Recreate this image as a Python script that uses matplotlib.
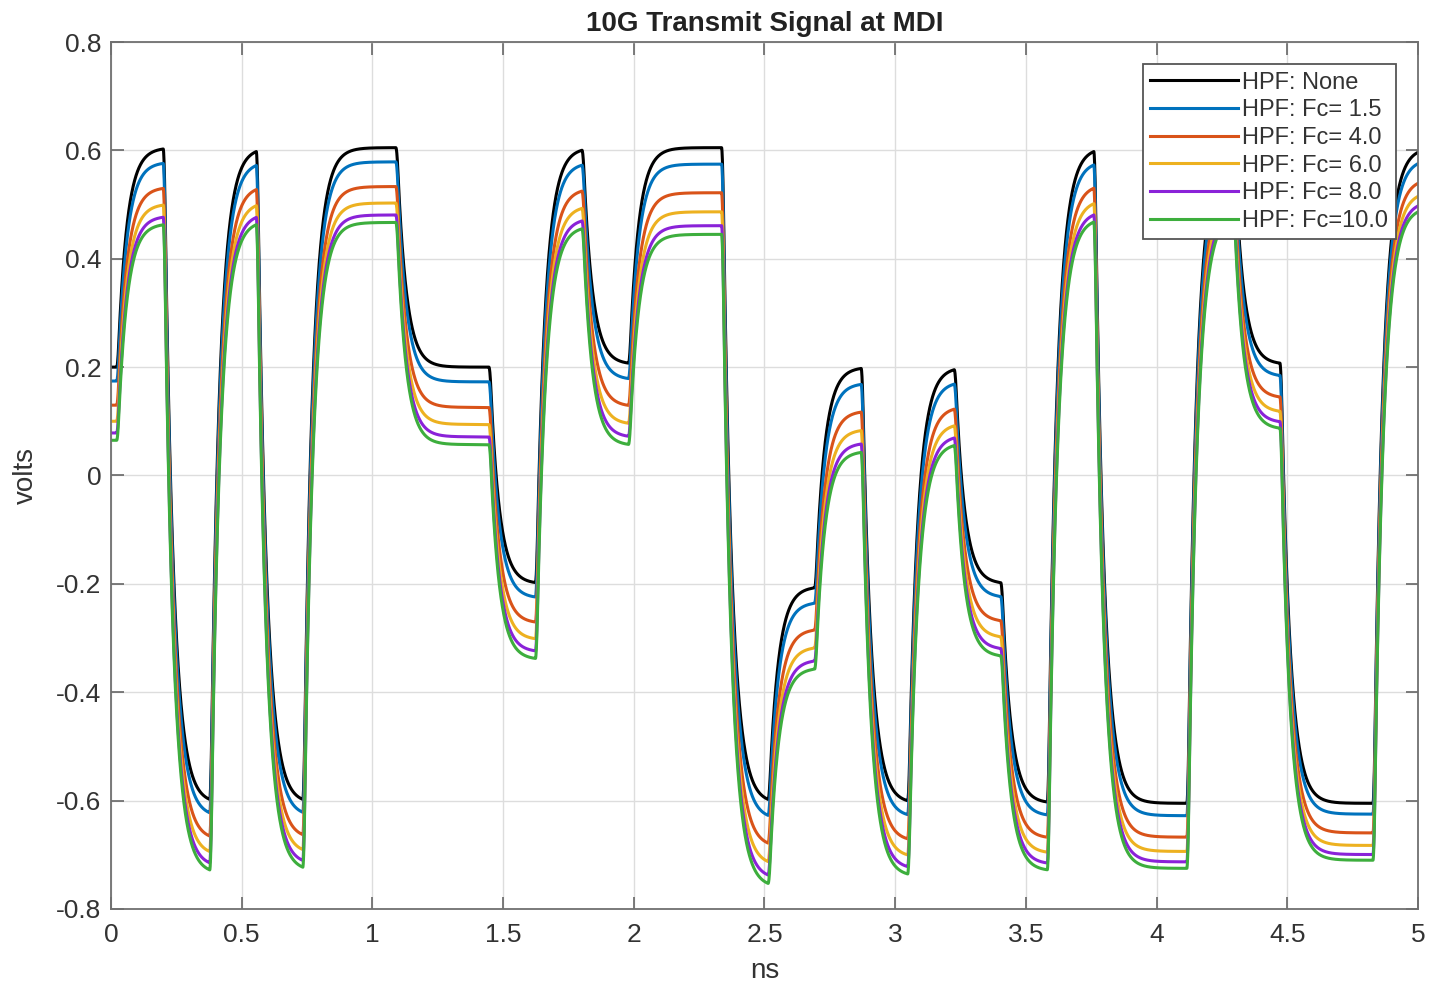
import numpy as np
import matplotlib.pyplot as plt

# symbol timing (ns)
t_first = 0.022
t_sym = 0.178

# PAM levels of the unfiltered signal, one per symbol
level_start = 0.2
levels = [0.605, -0.605, 0.605, -0.605, 0.605, 0.605, 0.2, 0.2, -0.2, 0.605,
          0.205, 0.605, 0.605, -0.605, -0.205, 0.2, -0.605, 0.2, -0.2, -0.605,
          0.605, -0.605, -0.605, 0.605, 0.205, -0.605, -0.605, 0.605]

# baseline shift of the Fc=10 curve per symbol (volts)
shift_start = -0.135
shift_fc10 = [-0.14, -0.13, -0.135, -0.125, -0.138, -0.138, -0.143, -0.143, -0.14, -0.145,
              -0.15, -0.16, -0.16, -0.155, -0.15, -0.155, -0.135, -0.14, -0.135, -0.125,
              -0.13, -0.12, -0.12, -0.12, -0.12, -0.105, -0.105, -0.11]

labels = ['HPF: None', 'HPF: Fc= 1.5', 'HPF: Fc= 4.0', 'HPF: Fc= 6.0', 'HPF: Fc= 8.0', 'HPF: Fc=10.0']
shift_scale = [0.0, 0.19, 0.52, 0.74, 0.9, 1.0]
colors = ['#000000', '#0072BD', '#D95319', '#EDB120', '#8A22D8', '#3DAE3D']

# driver edge + line response
edge_ramp = 0.008
tau = 0.034
dt = 0.0005
t = np.arange(0, 5.0 + dt, dt)
edges = t_first + t_sym * np.arange(len(levels))


def waveform(start, targets):
    x = np.full_like(t, start)
    prev = start
    for e, v in zip(edges, targets):
        frac = np.clip((t - e) / edge_ramp, 0, 1)
        x = x + (v - prev) * frac
        prev = v
    y = np.empty_like(x)
    y[0] = start
    a = np.exp(-dt / tau)
    for i in range(1, len(t)):
        y[i] = a * y[i - 1] + (1 - a) * x[i]
    return y


plt.rcParams['font.family'] = ['Liberation Sans', 'DejaVu Sans']
fig = plt.figure(figsize=(14.45, 9.86), dpi=100)
ax = fig.add_axes([0.0768, 0.0781, 0.9045, 0.8793])

for lab, k, c in zip(labels, shift_scale, colors):
    targets = [v + k * s for v, s in zip(levels, shift_fc10)]
    y = waveform(level_start + k * shift_start, targets)
    ax.plot(t, y, color=c, lw=2.2, label=lab)

ax.set_xlim(0, 5)
ax.set_ylim(-0.8, 0.8)
ax.set_xticks(np.arange(0, 5.01, 0.5))
ax.set_xticklabels(['0', '0.5', '1', '1.5', '2', '2.5', '3', '3.5', '4', '4.5', '5'])
ax.set_yticks(np.arange(-0.8, 0.81, 0.2))
ax.set_yticklabels(['-0.8', '-0.6', '-0.4', '-0.2', '0', '0.2', '0.4', '0.6', '0.8'])
ax.grid(True, color='#dddddd', lw=1.0)
ax.set_axisbelow(True)
ax.tick_params(direction='in', length=9, width=1.2, color='#666666', labelcolor='#333333',
               labelsize=19, top=True, right=True)
ax.tick_params(axis='x', pad=10)
ax.tick_params(axis='y', pad=7)
for sp in ax.spines.values():
    sp.set_color('#707070')
    sp.set_linewidth(1.3)

ax.set_title('10G Transmit Signal at MDI', fontsize=20, fontweight='bold', color='#222222', pad=8)
ax.set_xlabel('ns', fontsize=20, color='#333333', labelpad=8)
ax.set_ylabel('volts', fontsize=20, color='#333333', labelpad=12)

leg = ax.legend(loc='upper right', fontsize=17, handlelength=3.7, handletextpad=0.2,
                labelspacing=0.24, borderpad=0.3, borderaxespad=0.95, fancybox=False,
                framealpha=1, edgecolor='#555555')
leg.get_frame().set_linewidth(1.3)
for txt in leg.get_texts():
    txt.set_color('#333333')

fig.savefig('out.png', dpi=100, facecolor='white')
